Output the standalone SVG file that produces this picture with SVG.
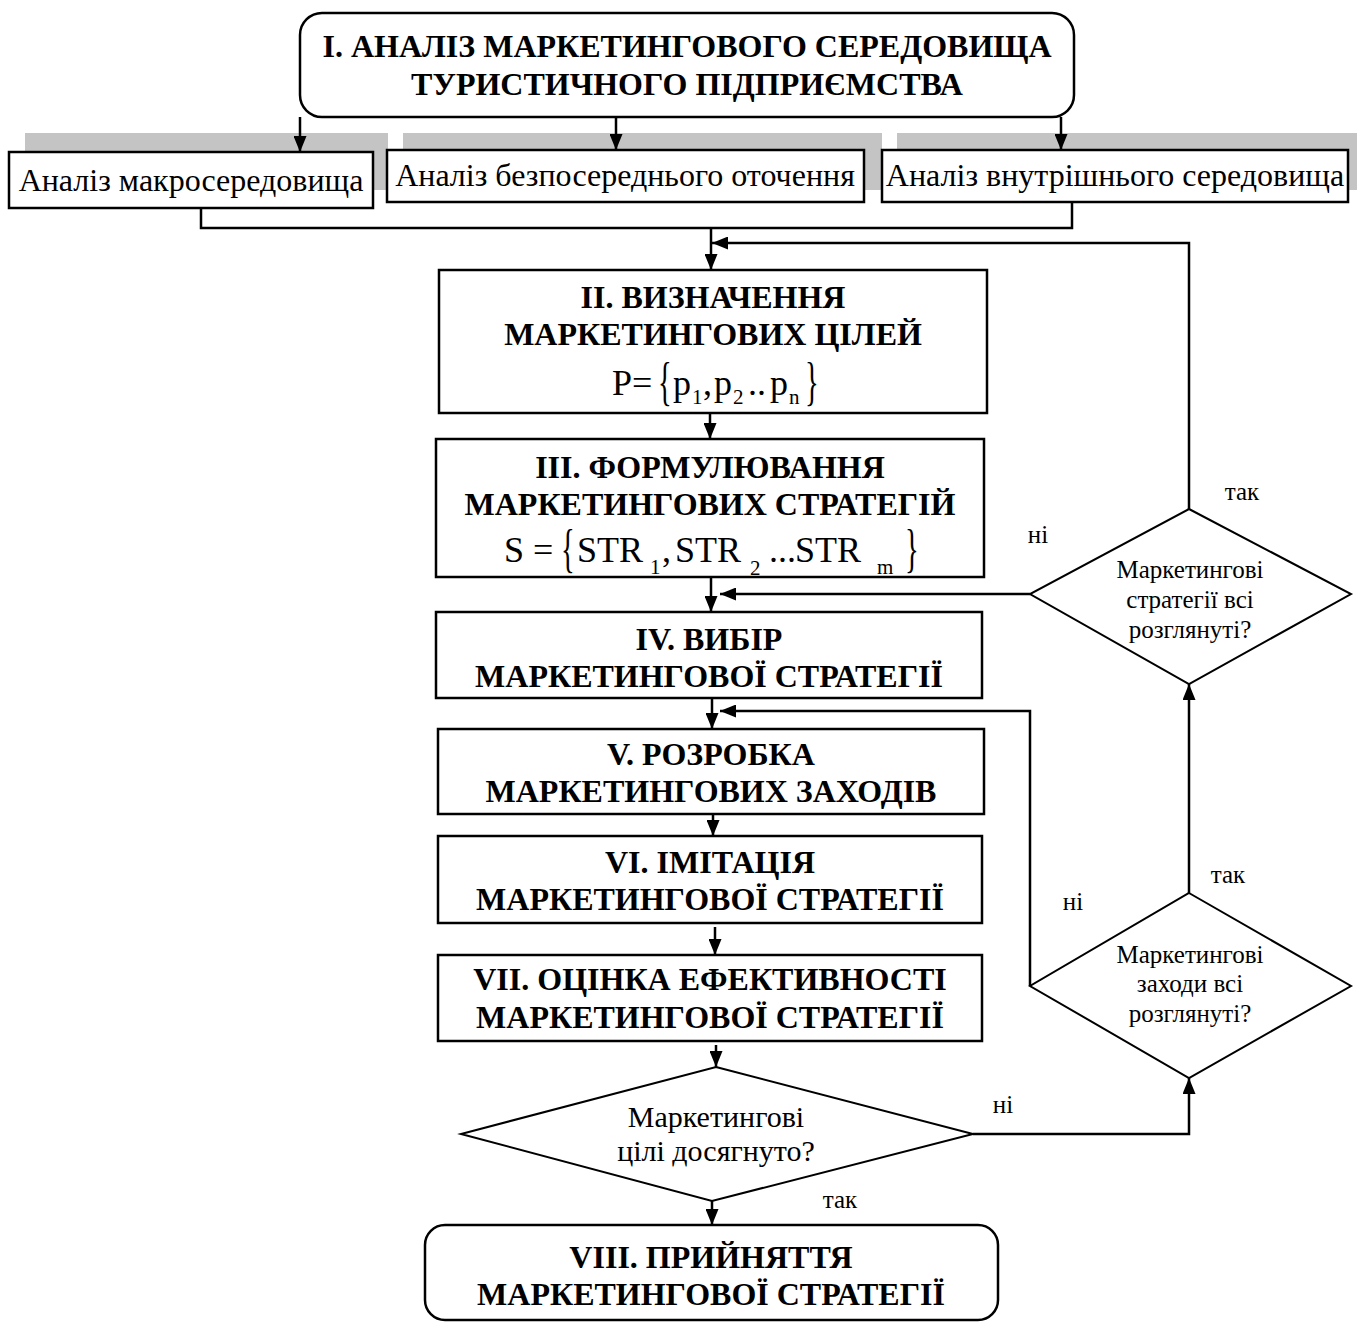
<svg xmlns="http://www.w3.org/2000/svg" width="1357" height="1322" viewBox="0 0 1357 1322">
<style>
.box{fill:#fff;stroke:#000;stroke-width:2.5}
.dia{fill:#fff;stroke:#000;stroke-width:2}
.gray{fill:#c4c4c4}
.c{fill:none;stroke:#000;stroke-width:2.5}
.t{font-family:"Liberation Serif",serif;font-weight:bold;font-size:32px;text-anchor:middle;fill:#000}
.r{font-family:"Liberation Serif",serif;font-size:32px;text-anchor:middle;fill:#000}
.d{font-family:"Liberation Serif",serif;font-size:25px;text-anchor:middle;fill:#000}
.dm{font-family:"Liberation Serif",serif;font-size:30px;text-anchor:middle;fill:#000}
.f{font-family:"Liberation Serif",serif;font-size:36px;fill:#000}
.fb{font-family:"Liberation Serif",serif;font-size:52px;fill:#000}
.fs{font-family:"Liberation Serif",serif;font-size:21px;fill:#000}
</style>
<defs>
<marker id="ah" viewBox="0 0 16 13" refX="16" refY="6.5" markerWidth="16" markerHeight="13" markerUnits="userSpaceOnUse" orient="auto">
<path d="M0,0 L16,6.5 L0,13 z" fill="#000"/>
</marker>
</defs>

<g id="gray-bars">
<rect class="gray" x="25" y="133" width="363" height="57"/>
<rect class="gray" x="403" y="133" width="479" height="57"/>
<rect class="gray" x="897" y="133" width="460" height="57"/>
</g>

<g id="connectors">
<path class="c" d="M300,117 V152" marker-end="url(#ah)"/>
<path class="c" d="M616,117 V150" marker-end="url(#ah)"/>
<path class="c" d="M1061,117 V150" marker-end="url(#ah)"/>
<path class="c" d="M201,208 V228 H1072 V202"/>
<path class="c" d="M711,228 V270" marker-end="url(#ah)"/>
<path class="c" d="M710,413 V439" marker-end="url(#ah)"/>
<path class="c" d="M711,577 V612" marker-end="url(#ah)"/>
<path class="c" d="M712,698 V729" marker-end="url(#ah)"/>
<path class="c" d="M713,814 V836" marker-end="url(#ah)"/>
<path class="c" d="M715,927 V955" marker-end="url(#ah)"/>
<path class="c" d="M716,1045 V1067" marker-end="url(#ah)"/>
<path class="c" d="M712,1201 V1225" marker-end="url(#ah)"/>
<path class="c" d="M973,1134 H1189 V1078" marker-end="url(#ah)"/>
<path class="c" d="M1189,893 V684" marker-end="url(#ah)"/>
<path class="c" d="M1030,986 V711 H720" marker-end="url(#ah)"/>
<path class="c" d="M1030,594 H720" marker-end="url(#ah)"/>
<path class="c" d="M1189,509 V243 H712" marker-end="url(#ah)"/>
</g>

<g id="n1">
<rect class="box" x="300" y="13" width="774" height="104" rx="22"/>
<text class="t" x="687" y="57">I. АНАЛІЗ МАРКЕТИНГОВОГО СЕРЕДОВИЩА</text>
<text class="t" x="687" y="95">ТУРИСТИЧНОГО ПІДПРИЄМСТВА</text>
</g>

<g id="n1a">
<rect class="box" x="9" y="152" width="364" height="56"/>
<text class="r" x="191" y="191">Аналіз макросередовища</text>
</g>
<g id="n1b">
<rect class="box" x="387" y="150" width="477" height="52"/>
<text class="r" x="625" y="186">Аналіз безпосереднього оточення</text>
</g>
<g id="n1c">
<rect class="box" x="882" y="150" width="466" height="52"/>
<text class="r" x="1115" y="186">Аналіз внутрішнього середовища</text>
</g>

<g id="n2">
<rect class="box" x="439" y="270" width="548" height="143"/>
<text class="t" x="713" y="308">II. ВИЗНАЧЕННЯ</text>
<text class="t" x="713" y="345">МАРКЕТИНГОВИХ ЦІЛЕЙ</text>
<text class="f" x="612" y="395">P=</text>
<text class="fb" transform="translate(658,399) scale(0.55,1)">{</text>
<text class="f" x="673" y="395">p</text>
<text class="fs" x="692" y="404">1</text>
<text class="f" x="703" y="395">,</text>
<text class="f" x="714" y="395">p</text>
<text class="fs" x="733" y="404">2</text>
<text class="f" x="748" y="395">..</text>
<text class="f" x="770" y="395">p</text>
<text class="fs" x="789" y="404">n</text>
<text class="fb" transform="translate(805,399) scale(0.55,1)">}</text>
</g>

<g id="n3">
<rect class="box" x="436" y="439" width="548" height="138"/>
<text class="t" x="710" y="478">III. ФОРМУЛЮВАННЯ</text>
<text class="t" x="710" y="515">МАРКЕТИНГОВИХ СТРАТЕГІЙ</text>
<text class="f" x="504" y="562">S =</text>
<text class="fb" transform="translate(561,566) scale(0.55,1)">{</text>
<text class="f" x="577" y="562">STR</text>
<text class="fs" x="650" y="574">1</text>
<text class="f" x="662" y="562">,</text>
<text class="f" x="675" y="562">STR</text>
<text class="fs" x="750" y="575">2</text>
<text class="f" x="769" y="562">...</text>
<text class="f" x="795" y="562">STR</text>
<text class="fs" x="877" y="574">m</text>
<text class="fb" transform="translate(905,566) scale(0.55,1)">}</text>
</g>

<g id="n4">
<rect class="box" x="436" y="612" width="546" height="86"/>
<text class="t" x="709" y="650">IV. ВИБІР</text>
<text class="t" x="709" y="687">МАРКЕТИНГОВОЇ СТРАТЕГІЇ</text>
</g>

<g id="n5">
<rect class="box" x="438" y="729" width="546" height="85"/>
<text class="t" x="711" y="765">V. РОЗРОБКА</text>
<text class="t" x="711" y="802">МАРКЕТИНГОВИХ ЗАХОДІВ</text>
</g>

<g id="n6">
<rect class="box" x="438" y="836" width="544" height="87"/>
<text class="t" x="710" y="873">VI. ІМІТАЦІЯ</text>
<text class="t" x="710" y="910">МАРКЕТИНГОВОЇ СТРАТЕГІЇ</text>
</g>

<g id="n7">
<rect class="box" x="438" y="955" width="544" height="86"/>
<text class="t" x="710" y="990">VII. ОЦІНКА ЕФЕКТИВНОСТІ</text>
<text class="t" x="710" y="1028">МАРКЕТИНГОВОЇ СТРАТЕГІЇ</text>
</g>

<g id="d-main">
<polygon class="dia" points="716,1067 973,1134 712,1201 461,1134"/>
<text class="dm" x="716" y="1127">Маркетингові</text>
<text class="dm" x="716" y="1161">цілі досягнуто?</text>
</g>

<g id="d-strat">
<polygon class="dia" points="1189,509 1351,594 1189,684 1030,594"/>
<text class="d" x="1190" y="578">Маркетингові</text>
<text class="d" x="1190" y="608">стратегії всі</text>
<text class="d" x="1190" y="638">розглянуті?</text>
</g>

<g id="d-meas">
<polygon class="dia" points="1189,893 1351,986 1189,1078 1030,986"/>
<text class="d" x="1190" y="963">Маркетингові</text>
<text class="d" x="1190" y="992">заходи всі</text>
<text class="d" x="1190" y="1022">розглянуті?</text>
</g>

<g id="n8">
<rect class="box" x="425" y="1225" width="573" height="95" rx="20"/>
<text class="t" x="711" y="1268">VIII. ПРИЙНЯТТЯ</text>
<text class="t" x="711" y="1305">МАРКЕТИНГОВОЇ СТРАТЕГІЇ</text>
</g>

<g id="labels">
<text class="d" x="1242" y="500">так</text>
<text class="d" x="1038" y="543">ні</text>
<text class="d" x="1228" y="883">так</text>
<text class="d" x="1073" y="910">ні</text>
<text class="d" x="1003" y="1113">ні</text>
<text class="d" x="840" y="1208">так</text>
</g>
</svg>
